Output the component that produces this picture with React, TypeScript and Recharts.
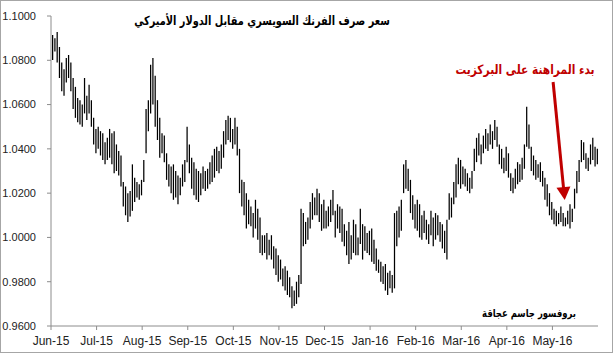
import React from 'react';
import { ComposedChart, Bar, XAxis, YAxis, ReferenceLine } from 'recharts';

const monthLabels = ['Jun-15', 'Jul-15', 'Aug-15', 'Sep-15', 'Oct-15', 'Nov-15', 'Dec-15', 'Jan-16', 'Feb-16', 'Mar-16', 'Apr-16', 'May-16'];
const monthTickIdx = [0, 20, 40, 60, 80, 100, 120, 140, 160, 180, 200, 220];
const yTicks = [0.96, 0.98, 1.0, 1.02, 1.04, 1.06, 1.08, 1.1];

const titleText = 'سعر صرف الفرنك السويسري مقابل الدولار الأميركي';
const noteText = 'بدء المراهنة على البركزيت';
const authorText = 'بروفسور جاسم عجاقة';

// daily highs
const highs = [
  1.0914, 1.0900, 1.0928, 1.0860, 1.0790, 1.0760, 1.0810, 1.0824, 1.0790, 1.0720, 1.0680,
  1.0630, 1.0620, 1.0600, 1.0720, 1.0640, 1.0690, 1.0620, 1.0540, 1.0490,
  1.0500, 1.0480, 1.0470, 1.0430, 1.0450, 1.0490, 1.0470, 1.0480, 1.0420, 1.0390, 1.0370, 1.0250, 1.0230, 1.0200, 1.0210, 1.0330, 1.0270, 1.0250, 1.0240, 1.0260, 1.0350,
  1.0580, 1.0620, 1.0780, 1.0810, 1.0730, 1.0620, 1.0540, 1.0470, 1.0460, 1.0380, 1.0330, 1.0320, 1.0330, 1.0300, 1.0280, 1.0270, 1.0330, 1.0350, 1.0500, 1.0420,
  1.0360, 1.0340, 1.0310, 1.0300, 1.0290, 1.0320, 1.0300, 1.0310, 1.0340, 1.0370, 1.0400, 1.0410, 1.0390, 1.0420, 1.0480, 1.0530, 1.0550, 1.0540, 1.0490, 1.0540,
  1.0500, 1.0400, 1.0260, 1.0250, 1.0200, 1.0170, 1.0140, 1.0110, 1.0170, 1.0130, 1.0090, 1.0010, 1.0010, 1.0020, 0.9990, 1.0010, 0.9960, 0.9950, 0.9920, 0.9900,
  0.9860, 0.9870, 0.9850, 0.9820, 0.9780, 0.9760, 0.9800, 0.9830, 1.0130, 1.0110, 1.0070, 1.0090, 1.0160, 1.0200, 1.0180, 1.0220, 1.0200, 1.0150, 1.0170, 1.0120,
  1.0140, 1.0170, 1.0214, 1.0120, 1.0150, 1.0140, 1.0130, 1.0060, 1.0030, 1.0070, 1.0010, 1.0080, 1.0060, 1.0000, 1.0130, 1.0060, 1.0050, 1.0020, 1.0030, 1.0040,
  0.9990, 0.9950, 0.9900, 0.9890, 0.9870, 0.9880, 0.9840, 0.9850, 0.9830, 1.0110, 1.0120, 1.0140, 1.0170, 1.0330, 1.0350, 1.0310, 1.0260, 1.0190, 1.0150, 1.0170,
  1.0150, 1.0100, 1.0120, 1.0080, 1.0060, 1.0120, 1.0090, 1.0110, 1.0100, 1.0070, 1.0060, 1.0030, 1.0080, 1.0200, 1.0180, 1.0250, 1.0330, 1.0360, 1.0350, 1.0320,
  1.0310, 1.0290, 1.0270, 1.0300, 1.0400, 1.0450, 1.0470, 1.0420, 1.0460, 1.0490, 1.0470, 1.0510, 1.0480, 1.0530, 1.0500, 1.0420, 1.0400, 1.0360, 1.0410, 1.0380,
  1.0290, 1.0270, 1.0310, 1.0340, 1.0330, 1.0360, 1.0420, 1.0590, 1.0510, 1.0410, 1.0370, 1.0350, 1.0330, 1.0340, 1.0300, 1.0270, 1.0240, 1.0200, 1.0160, 1.0130,
  1.0120, 1.0110, 1.0140, 1.0110, 1.0090, 1.0120, 1.0150, 1.0130, 1.0220, 1.0300, 1.0350, 1.0440, 1.0430, 1.0380, 1.0360, 1.0420, 1.0450, 1.0410, 1.0400,
];

// daily lows
const lows = [
  1.0801, 1.0840, 1.0790, 1.0720, 1.0660, 1.0640, 1.0700, 1.0720, 1.0660, 1.0580, 1.0540,
  1.0520, 1.0510, 1.0500, 1.0560, 1.0530, 1.0560, 1.0500, 1.0420, 1.0380,
  1.0400, 1.0370, 1.0350, 1.0330, 1.0350, 1.0360, 1.0330, 1.0290, 1.0300, 1.0280, 1.0230, 1.0140, 1.0100, 1.0070, 1.0095, 1.0120, 1.0160, 1.0180, 1.0170, 1.0190, 1.0250,
  1.0380, 1.0480, 1.0560, 1.0600, 1.0500, 1.0440, 1.0360, 1.0380, 1.0340, 1.0260, 1.0230, 1.0200, 1.0170, 1.0180, 1.0150, 1.0190, 1.0230, 1.0250, 1.0340, 1.0290,
  1.0220, 1.0190, 1.0170, 1.0160, 1.0190, 1.0220, 1.0210, 1.0220, 1.0240, 1.0250, 1.0270, 1.0300, 1.0290, 1.0310, 1.0360, 1.0420, 1.0440, 1.0430, 1.0400, 1.0420,
  1.0370, 1.0200, 1.0140, 1.0100, 1.0040, 1.0060, 1.0050, 1.0000, 1.0040, 0.9990, 0.9930, 0.9920, 0.9930, 0.9900, 0.9920, 0.9900, 0.9860, 0.9830, 0.9800, 0.9810,
  0.9780, 0.9760, 0.9740, 0.9730, 0.9680, 0.9690, 0.9700, 0.9730, 0.9790, 0.9960, 0.9970, 0.9990, 1.0040, 1.0080, 1.0100, 1.0100, 1.0070, 1.0030, 1.0040, 1.0040,
  1.0050, 1.0070, 1.0100, 1.0000, 1.0040, 1.0020, 0.9980, 0.9960, 0.9920, 0.9880, 0.9900, 0.9930, 0.9920, 0.9920, 0.9970, 0.9900, 0.9940, 0.9930, 0.9920, 0.9890,
  0.9880, 0.9850, 0.9840, 0.9800, 0.9790, 0.9760, 0.9740, 0.9770, 0.9750, 0.9770, 0.9960, 1.0000, 1.0030, 1.0200, 1.0220, 1.0210, 1.0110, 1.0080, 1.0040, 1.0030,
  1.0000, 0.9990, 1.0020, 0.9990, 0.9970, 1.0010, 0.9960, 0.9990, 1.0010, 0.9980, 0.9950, 0.9930, 0.9900, 1.0080, 1.0090, 1.0150, 1.0180, 1.0240, 1.0220, 1.0240,
  1.0230, 1.0210, 1.0200, 1.0220, 1.0300, 1.0340, 1.0370, 1.0330, 1.0380, 1.0400, 1.0390, 1.0420, 1.0400, 1.0440, 1.0410, 1.0330, 1.0310, 1.0290, 1.0300, 1.0270,
  1.0210, 1.0200, 1.0220, 1.0240, 1.0250, 1.0260, 1.0310, 1.0410, 1.0400, 1.0300, 1.0280, 1.0260, 1.0270, 1.0250, 1.0230, 1.0170, 1.0140, 1.0100, 1.0080, 1.0060,
  1.0050, 1.0060, 1.0070, 1.0050, 1.0050, 1.0060, 1.0040, 1.0070, 1.0130, 1.0200, 1.0250, 1.0340, 1.0350, 1.0310, 1.0300, 1.0330, 1.0350, 1.0320, 1.0330,
];

// arrow annotation endpoints (data coordinates)
const arrowStart = { x: 220.3, y: 1.0702 };
const arrowEnd = { x: 225.4, y: 1.0169 };

const data = highs.map((h, i) => ({ x: i + 0.5, range: [lows[i], h] }));

const ArrowShape = (props: any) => {
  const { x1, y1, x2, y2 } = props;
  if ([x1, y1, x2, y2].some((v) => typeof v !== 'number' || isNaN(v))) return null;
  const dx = x2 - x1;
  const dy = y2 - y1;
  const len = Math.hypot(dx, dy) || 1;
  const ux = dx / len;
  const uy = dy / len;
  const headLen = 13;
  const headHalf = 7;
  const bx = x2 - ux * headLen;
  const by = y2 - uy * headLen;
  const px = -uy;
  const py = ux;
  return (
    <g>
      <line x1={x1} y1={y1} x2={bx + ux} y2={by + uy} stroke="#c00000" strokeWidth={3} />
      <polygon
        points={`${x2},${y2} ${bx + px * headHalf},${by + py * headHalf} ${bx - px * headHalf},${by - py * headHalf}`}
        fill="#c00000"
      />
    </g>
  );
};

const arabicFont = '"DejaVu Sans", "Noto Sans", sans-serif';

const textBase: React.CSSProperties = {
  position: 'absolute',
  textAlign: 'center',
  fontFamily: arabicFont,
  fontWeight: 'bold',
  direction: 'rtl',
  whiteSpace: 'nowrap',
};

export default function App() {
  return (
    <div style={{ position: 'fixed', left: 0, top: 0, width: 613, height: 353, background: '#fff' }}>
      <ComposedChart
        width={613}
        height={353}
        data={data}
        margin={{ top: 16, right: 15, bottom: 0, left: 0 }}
      >
        <XAxis
          dataKey="x"
          type="number"
          domain={[0, 240]}
          ticks={monthTickIdx}
          interval={0}
          allowDataOverflow
          tickFormatter={(v: number) => monthLabels[Math.round(v / 20)] ?? ''}
          height={27}
          tickSize={4}
          tickMargin={6}
          stroke="#8c8c8c"
          tick={{ fill: '#222', fontSize: 12, fontFamily: '"Liberation Sans", Arial, sans-serif' }}
        />
        <YAxis
          type="number"
          domain={[0.96, 1.1]}
          ticks={yTicks}
          interval={0}
          allowDataOverflow
          width={51}
          tickSize={4}
          tickMargin={11}
          stroke="#8c8c8c"
          tickFormatter={(v: number) => v.toFixed(4)}
          tick={{ fill: '#222', fontSize: 11, fontFamily: '"Liberation Sans", Arial, sans-serif' }}
        />
        <Bar dataKey="range" barSize={1.25} fill="#000" isAnimationActive={false} />
        <ReferenceLine segment={[arrowStart, arrowEnd]} shape={ArrowShape} ifOverflow="visible" />
      </ComposedChart>
      <div
        style={{
          ...textBase, left: 62, width: 400, top: 12, fontSize: 12.5, color: '#000', lineHeight: '18px',
          transform: 'scaleX(0.78)', transformOrigin: '200px 50%',
        }}
      >
        {titleText}
      </div>
      <div
        style={{
          ...textBase, left: 425, width: 200, top: 62, fontSize: 13, color: '#c00000', lineHeight: '16px',
          transform: 'scaleX(0.82)', transformOrigin: '100px 50%',
        }}
      >
        {noteText}
      </div>
      <div
        style={{
          ...textBase, left: 459, width: 140, top: 307, fontSize: 11, color: '#000', lineHeight: '14px',
          transform: 'scaleX(0.77)', transformOrigin: '70px 50%',
        }}
      >
        {authorText}
      </div>
      <div
        style={{
          position: 'absolute', left: 0, top: 0, width: 613, height: 353, boxSizing: 'border-box',
          border: '1px solid #a6a6a6', pointerEvents: 'none',
        }}
      />
    </div>
  );
}
